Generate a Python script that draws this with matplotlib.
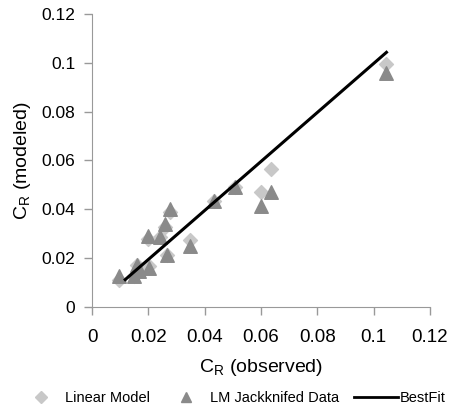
import matplotlib
matplotlib.use("Agg")
import matplotlib.pyplot as plt
from matplotlib.lines import Line2D

plt.rcParams['font.family'] = ['Liberation Sans', 'DejaVu Sans']

# observed vs modeled C_R
obs = [0.1044, 0.0635, 0.0602, 0.0507, 0.0432, 0.0347, 0.0278, 0.0259, 0.0243,
       0.0198, 0.0267, 0.0201, 0.0160, 0.0167, 0.0149, 0.0096]
linear_model = [0.0997, 0.0567, 0.0470, 0.0491, 0.0434, 0.0276, 0.0390, 0.0326, 0.0287,
                0.0279, 0.0213, 0.0169, 0.0173, 0.0146, 0.0128, 0.0112]
jackknifed = [0.0958, 0.0471, 0.0415, 0.0491, 0.0434, 0.0251, 0.0401, 0.0341, 0.0287,
              0.0292, 0.0213, 0.0158, 0.0173, 0.0146, 0.0128, 0.0126]
fit_x = [0.0118, 0.1046]
fit_y = [0.0112, 0.1043]

fig = plt.figure(figsize=(4.51, 4.12), dpi=100)
ax = fig.add_axes([0.204, 0.255, 0.749, 0.711])

ax.scatter(obs, linear_model, marker='D', s=50, color='#c8c8c8', zorder=2)
ax.scatter(obs, jackknifed, marker='^', s=95, color='#8a8a8a', zorder=3)
ax.plot(fit_x, fit_y, color='black', lw=2.2, zorder=4)

ax.set_xlim(0, 0.12)
ax.set_ylim(0, 0.12)
ticks = [0, 0.02, 0.04, 0.06, 0.08, 0.1, 0.12]
labels = ['0', '0.02', '0.04', '0.06', '0.08', '0.1', '0.12']
ax.set_xticks(ticks)
ax.set_xticklabels(labels)
ax.set_yticks(ticks)
ax.set_yticklabels(labels)
ax.tick_params(color='#999999', length=6, width=1)
ax.tick_params(axis='x', labelsize=13.5, pad=10)
ax.tick_params(axis='y', labelsize=12.5, pad=6)
for s in ['top', 'right']:
    ax.spines[s].set_visible(False)
for s in ['left', 'bottom']:
    ax.spines[s].set_color('#999999')

ax.set_xlabel('C$_\\mathregular{R}$ (observed)', fontsize=14, labelpad=8)
ax.set_ylabel('C$_\\mathregular{R}$ (modeled)', fontsize=14, labelpad=6)

handles = [
    Line2D([], [], marker='D', color='#c8c8c8', ls='none', markersize=6),
    Line2D([], [], marker='^', color='#8a8a8a', ls='none', markersize=7),
    Line2D([], [], color='black', lw=2),
]
fig.legend(handles, ['Linear Model', 'LM Jackknifed Data', 'BestFit'],
           loc='lower center', bbox_to_anchor=(0.515, -0.005), ncol=3, frameon=False,
           fontsize=10.5, handlelength=3, columnspacing=1.0, handletextpad=0.15,
           borderaxespad=0.2)

fig.savefig('out.png', dpi=100)
